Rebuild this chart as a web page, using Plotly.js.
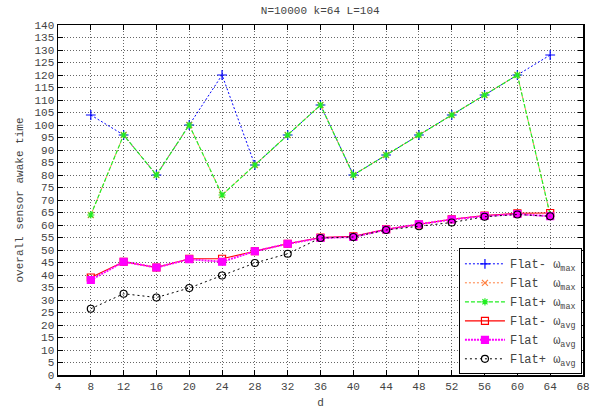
<!DOCTYPE html>
<html>
<head>
<meta charset="utf-8">
<script src="https://cdn.plot.ly/plotly-3.0.1.min.js"></script>
<style>html,body{margin:0;padding:0;background:#fff;}#chart{width:593px;height:414px;}</style>
</head>
<body>
<div id="chart"></div>
<script>
const d = [8, 12, 16, 20, 24, 28, 32, 36, 40, 44, 48, 52, 56, 60, 64];
const flatMinusMax = [104, 96, 80, 100, 120, 84, 96, 108, 80, 88, 96, 104, 112, 120, 128];
const flatMax      = [64, 96, 80, 100, 72, 84, 96, 108, 80, 88, 96, 104, 112, 120, 64];
const flatPlusMax  = [64, 96, 80, 100, 72, 84, 96, 108, 80, 88, 96, 104, 112, 120, 64];
const flatMinusAvg = [39, 45.3, 43, 46.5, 46.5, 49.5, 52.5, 55, 55.5, 58.3, 60.2, 62.3, 63.8, 64.7, 64.8];
const flatAvg      = [38, 45.3, 43, 46.3, 45.3, 49.5, 52.5, 54.8, 55.2, 58.2, 60.3, 62.2, 63.6, 64.4, 63.5];
const flatPlusAvg  = [26.5, 32.5, 31, 34.8, 39.8, 44.8, 48.5, 54.8, 55.2, 58, 59.5, 61, 63.3, 64.2, 63.5];
const names = ['Flat- ω<sub>max</sub>', 'Flat  ω<sub>max</sub>', 'Flat+ ω<sub>max</sub>',
               'Flat- ω<sub>avg</sub>', 'Flat  ω<sub>avg</sub>', 'Flat+ ω<sub>avg</sub>'];
const xTicks = [4, 8, 12, 16, 20, 24, 28, 32, 36, 40, 44, 48, 52, 56, 60, 64, 68];

const font = 'Liberation Mono, Courier New, monospace';
const txt = '#444';

function tr(y, name, color, dash, symbol, msize, lw) {
  return {
    x: d, y: y, name: name, type: 'scatter', mode: 'lines+markers',
    line: {color: color, dash: dash, width: lw},
    marker: {symbol: symbol, size: msize, color: color, line: {color: color, width: 1.2}}
  };
}

const data = [
  tr(flatMinusMax, names[0], '#0000ff', '2px,2px', 'cross-thin-open', 7, 1),
  tr(flatMax, names[1], '#ff7f3f', '2px,2px', 'x-thin-open', 6, 1),
  tr(flatPlusMax, names[2], '#22ee22', '4px,2px', 'asterisk-open', 6, 1.2),
  tr(flatMinusAvg, names[3], '#ff0000', 'solid', 'square-open', 7, 1.2),
  tr(flatAvg, names[4], '#ff00ff', '2px,1px', 'square', 7, 2),
  tr(flatPlusAvg, names[5], '#000000', '2px,3px', 'circle-open', 7, 1)
];

const axisCommon = {
  showline: true, linecolor: '#000', linewidth: 1.5, mirror: 'ticks',
  ticks: 'inside', ticklen: 5, tickcolor: '#000', tickwidth: 1,
  showgrid: true, gridcolor: '#666', griddash: '1px,2px', gridwidth: 1,
  zeroline: false,
  tickfont: {family: font, size: 11, color: txt}
};

const layout = {
  width: 593, height: 414,
  margin: {l: 58, r: 10, t: 25, b: 39},
  paper_bgcolor: '#fff', plot_bgcolor: '#fff',
  title: {text: 'N=10000 k=64 L=104', font: {family: font, size: 11, color: txt},
          x: 0.54, xanchor: 'center', y: 0.985, yanchor: 'top'},
  xaxis: Object.assign({}, axisCommon, {
    range: [4, 68], tickvals: xTicks, ticktext: xTicks.map(String),
    title: {text: 'd', font: {family: font, size: 11, color: txt}, standoff: 6}
  }),
  yaxis: Object.assign({}, axisCommon, {
    range: [0, 140], dtick: 5, tick0: 0,
    title: {text: 'overall sensor awake time', font: {family: font, size: 11, color: txt}, standoff: 8}
  }),
  showlegend: true,
  legend: {
    x: 0.998, xanchor: 'right', y: 0.002, yanchor: 'bottom',
    bgcolor: '#fff', bordercolor: '#000', borderwidth: 1,
    font: {family: font, size: 12, color: txt},
    tracegroupgap: 0, itemwidth: 40
  }
};

Plotly.newPlot('chart', data, layout, {displayModeBar: false, staticPlot: true});
</script>
</body>
</html>
